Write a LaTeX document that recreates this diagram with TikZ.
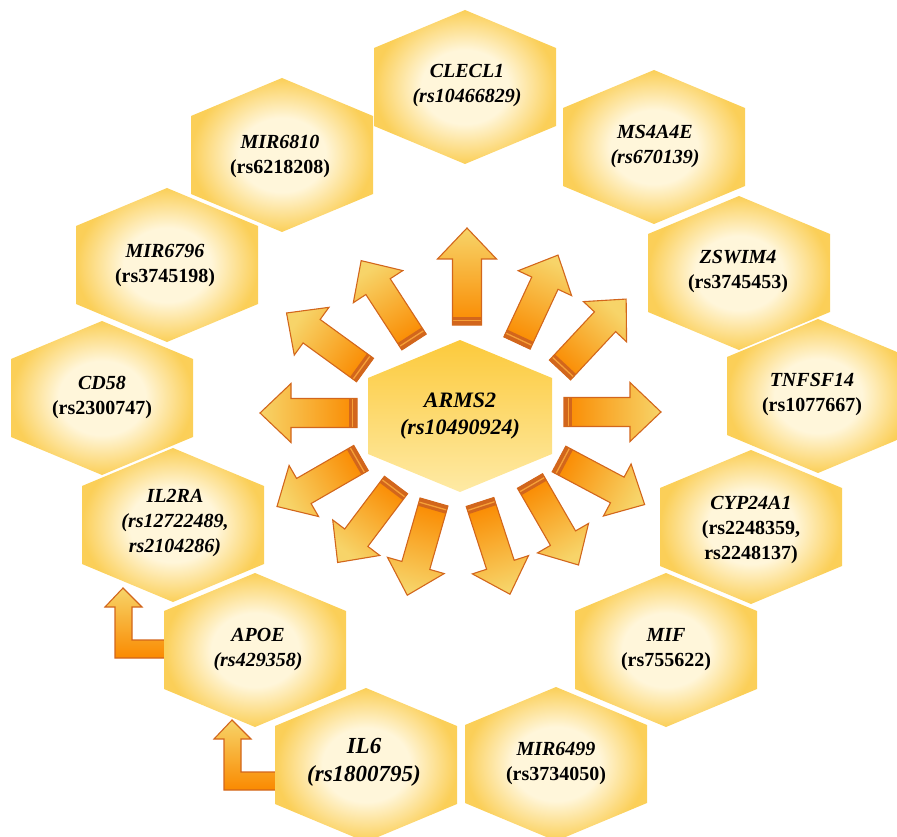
\documentclass[tikz,border=0pt]{standalone}
\usepackage{fontspec}
\setmainfont{Liberation Serif}
\usetikzlibrary{calc}

\definecolor{hexout}{RGB}{251,207,88}
\definecolor{hexin}{RGB}{255,246,218}
\definecolor{ctop}{RGB}{252,202,60}
\definecolor{cbot}{RGB}{254,234,165}
\definecolor{arrline}{RGB}{210,102,28}
\definecolor{arrtip}{RGB}{247,212,105}
\definecolor{arrmid}{RGB}{255,188,0}
\definecolor{arrbase}{RGB}{250,138,0}
\definecolor{banddark}{RGB}{210,102,28}
\definecolor{bandlight}{RGB}{246,160,55}

\pgfdeclareradialshading{hexshade}{\pgfpoint{0bp}{0bp}}{color(0bp)=(hexin); color(12bp)=(hexin); color(25bp)=(hexout); color(50bp)=(hexout)}

\tikzset{
  gene/.style={align=center, font=\fontsize{20}{25}\selectfont\bfseries, inner sep=0pt, text=black},
  hexcellfill/.style={shading=hexshade},
  arrfill/.style={top color=arrtip, middle color=arrmid, bottom color=arrbase},
  arrline/.style={draw=arrline, line width=1.1pt, line join=miter},
  larrow/.style={top color=arrtip, middle color=arrmid, bottom color=arrbase, draw=arrline, line width=1.1pt},
}

\newcommand\hexcell[2]{%
  \begin{scope}[shift={(#1,#2)}]
    \shade[hexcellfill] (0,-77) -- (91,-39) -- (91,39) -- (0,77) -- (-91,39) -- (-91,-39) -- cycle;
  \end{scope}}

\newcommand\radarrow[3]{%
  \begin{scope}[shift={(#1,#2)}, rotate=#3]
    \pgfmathsetmacro\shadeang{#3-90}
    \shade[arrfill, shading angle=\shadeang] (0,-14.5) -- (66,-14.5) -- (66,-29.5) -- (97,0) -- (66,29.5) -- (66,14.5) -- (0,14.5) -- cycle;
    \fill[banddark] (0,-14.5) rectangle (8,14.5);
    \draw[bandlight, line width=1.3pt] (4.2,-14.5) -- (4.2,14.5);
    \draw[arrline] (0,-14.5) -- (66,-14.5) -- (66,-29.5) -- (97,0) -- (66,29.5) -- (66,14.5) -- (0,14.5) -- cycle;
  \end{scope}}

\begin{document}
\begin{tikzpicture}[x=1pt, y=-1pt]
\useasboundingbox (0,0) rectangle (897,837);
\clip (0,0) rectangle (897,837);

% L-shaped arrows (drawn under the hexagons)
\shade[larrow] (123,588) -- (142,607) -- (132,607) -- (132,640) -- (168,640) -- (168,658) -- (115,658) -- (115,607) -- (105,607) -- cycle;
\shade[larrow] (232,720) -- (251,739) -- (241,739) -- (241,772) -- (279,772) -- (279,790) -- (224,790) -- (224,739) -- (214,739) -- cycle;

% outer hexagons
\hexcell{465}{87}
\hexcell{654}{147}
\hexcell{739}{273}
\hexcell{818}{396}
\hexcell{751}{527}
\hexcell{666}{650}
\hexcell{556}{764}
\hexcell{366}{765}
\hexcell{255}{650}
\hexcell{173}{525}
\hexcell{102}{398}
\hexcell{167}{265}
\hexcell{282}{155}

% central hexagon
\shade[top color=ctop, bottom color=cbot] (460,340) -- (552,378) -- (552,454) -- (460,492) -- (368,454) -- (368,378) -- cycle;

% radial arrows
\radarrow{467}{325}{90}
\radarrow{517}{343}{65}
\radarrow{560}{370}{47}
\radarrow{564}{412}{0}
\radarrow{559}{459}{-28}
\radarrow{530}{481}{-60}
\radarrow{480}{502}{-72}
\radarrow{434}{502}{-106}
\radarrow{396}{485}{-127}
\radarrow{361}{458}{-150}
\radarrow{357}{413}{180}
\radarrow{365}{370}{144}
\radarrow{414}{342}{123}

% texts
\node[gene, font=\fontsize{22}{27}\selectfont\bfseries] (arms2) at (460,416) {\textit{ARMS2}\\\textit{(rs10490924)}};
\node[gene] (clecl1) at (467,86) {\textit{CLECL1}\\\textit{(rs10466829)}};
\node[gene] (ms4a4e) at (655,147) {\textit{MS4A4E}\\\textit{(rs670139)}};
\node[gene] (zswim4) at (738,272) {\textit{ZSWIM4}\\(rs3745453)};
\node[gene] (tnfsf14) at (812,395) {\textit{TNFSF14}\\(rs1077667)};
\node[gene] (cyp24a1) at (751,530) {\textit{CYP24A1}\\(rs2248359,\\rs2248137)};
\node[gene] (mif) at (666,650) {\textit{MIF}\\(rs755622)};
\node[gene] (mir6499) at (556,764) {\textit{MIR6499}\\(rs3734050)};
\node[gene, font=\fontsize{23}{28}\selectfont\bfseries] (il6) at (364,762) {\textit{IL6}\\\textit{(rs1800795)}};
\node[gene] (apoe) at (258,650) {\textit{APOE}\\\textit{(rs429358)}};
\node[gene] (il2ra) at (175,523) {\textit{IL2RA}\\\textit{(rs12722489,}\\\textit{rs2104286)}};
\node[gene] (cd58) at (102,397) {\textit{CD58}\\(rs2300747)};
\node[gene] (mir6796) at (165,266) {\textit{MIR6796}\\(rs3745198)};
\node[gene] (mir6810) at (280,156) {\textit{MIR6810}\\(rs6218208)};
\end{tikzpicture}
\end{document}
